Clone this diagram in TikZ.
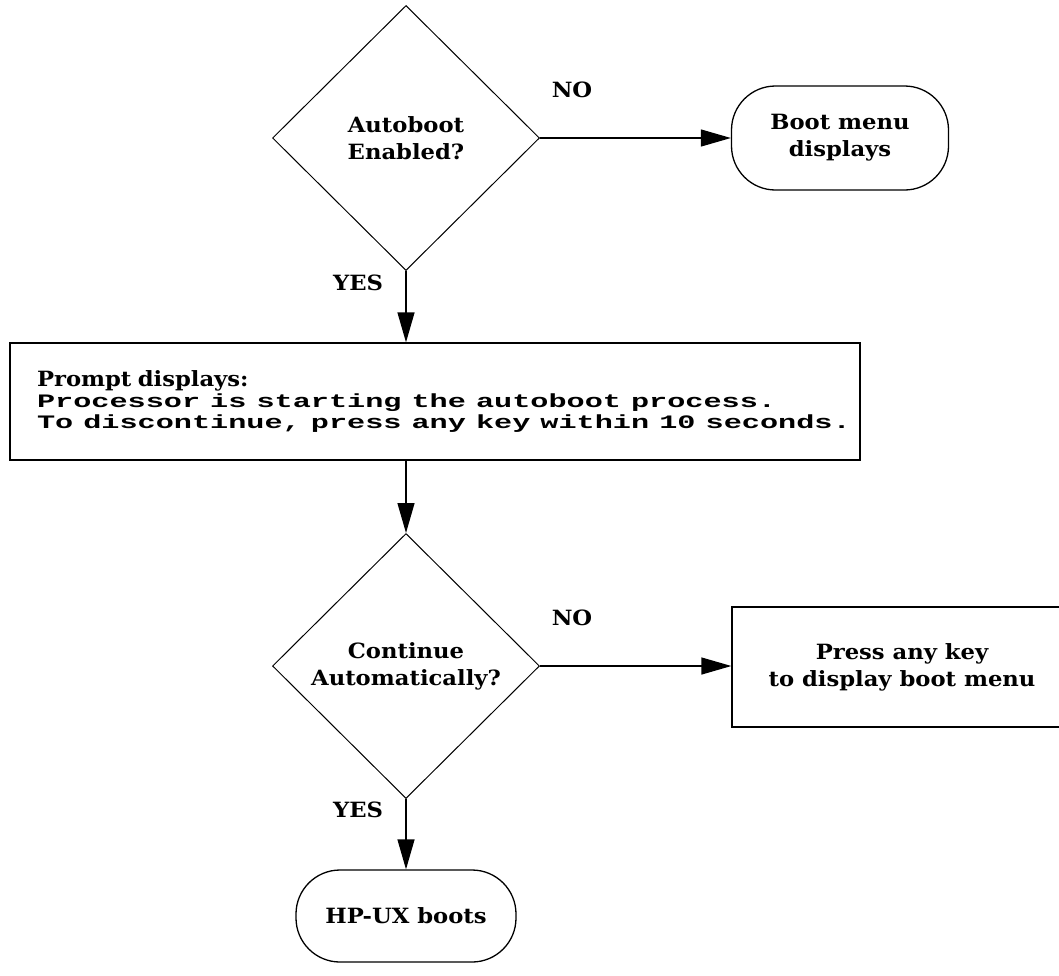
\documentclass[tikz,border=0pt]{standalone}
\usepackage{fontspec}
\usepackage{graphicx}
\setmainfont{DejaVu Serif}[FakeStretch=1.08]
\newfontfamily\promptmono{Liberation Mono}
\newcommand\monoline[1]{\scalebox{1.59}[1]{\promptmono\bfseries #1}}
\usetikzlibrary{shapes.geometric, arrows.meta, positioning}
\tikzset{
  decision/.style={draw, diamond, line width=1pt, minimum width=267pt, minimum height=265pt,
    inner sep=0pt, align=center, font=\fontsize{21}{27}\selectfont\bfseries},
  terminal/.style={draw, rectangle, rounded corners=44pt, line width=1.3pt, inner sep=0pt,
    align=center, font=\fontsize{21}{27}\selectfont\bfseries},
  process/.style={draw, rectangle, line width=1.3pt, inner sep=0pt},
  flow/.style={-{Triangle[length=30pt,width=17pt]}, line width=1.3pt},
  branch/.style={font=\fontsize{21}{24}\selectfont\bfseries}
}
\begin{document}
\begin{tikzpicture}[x=1pt, y=-1pt]
  \useasboundingbox (0,0) rectangle (1059,975);

  \node (autoboot) [decision] at (406,138) {Autoboot\\Enabled?};
  \node (bootmenu) [terminal, minimum width=217pt, minimum height=104pt] at (840,138) {Boot menu\\displays};
  \node (prompt) [process, minimum width=850pt, minimum height=117pt, text width=796pt, align=left,
    font=\fontsize{19}{21}\selectfont] at (435,401.5)
    {{\fontsize{21}{21}\selectfont\bfseries Prompt displays:}\\
     \monoline{Processor is starting the autoboot process.}\\
     \monoline{To discontinue, press any key within 10 seconds.}};
  \node (continue) [decision] at (406,666) {Continue\\Automatically?};
  \node (presskey) [process, minimum width=340pt, minimum height=120pt, align=center,
    font=\fontsize{21}{27}\selectfont\bfseries] at (902,667) {Press any key\\to display boot menu};
  \node (hpux) [terminal, minimum width=220pt, minimum height=92pt] at (406,916) {HP-UX boots};

  \node (no1) [branch] at (572,90) {NO};
  \node (yes1) [branch] at (358,283) {YES};
  \node (no2) [branch] at (572,618) {NO};
  \node (yes2) [branch] at (358,810) {YES};

  \draw[flow] (autoboot.east) -- (bootmenu.west);
  \draw[flow] (autoboot.south) -- (autoboot.south |- prompt.north);
  \draw[flow] (autoboot.south |- prompt.south) -- (continue.north);
  \draw[flow] (continue.east) -- (continue.east -| presskey.west);
  \draw[flow] (continue.south) -- (hpux.north);
\end{tikzpicture}
\end{document}
